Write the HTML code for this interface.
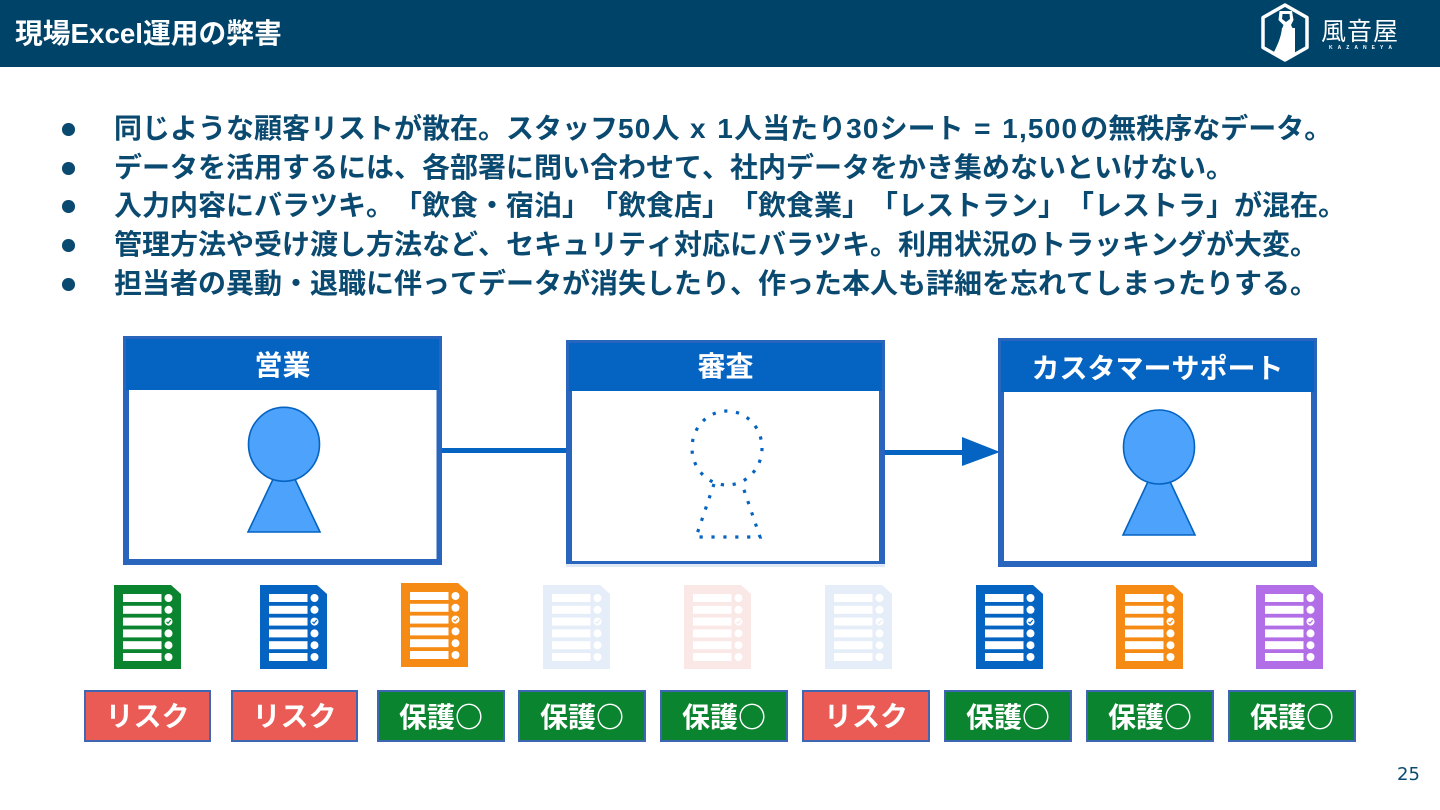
<!DOCTYPE html>
<html lang="ja"><head><meta charset="utf-8"><style>
html,body{margin:0;padding:0;background:#fff}
body{width:1440px;height:810px;position:relative;overflow:hidden;font-family:"Liberation Sans","Noto Sans CJK JP",sans-serif;text-spacing-trim:space-all;font-feature-settings:"palt" 0,"chws" 0,"halt" 0;font-kerning:none}
.a{position:absolute;white-space:nowrap}
.l{left:114px;font-size:28px;font-weight:700;color:#0b4a70;line-height:39px;height:39px}
.n{letter-spacing:1.2px;word-spacing:1.5px}
.b{left:60px;width:18px;height:15px}
.b:before{content:"";position:absolute;left:2px;top:1px;width:12.5px;height:12.5px;border-radius:50%;background:#0b4a70}
.tag{position:absolute;top:690px;width:124px;height:48px;border:2px solid #3f67b1;text-align:center;color:#fff;font-size:28px;font-weight:700;line-height:49px}
.tag span{font-weight:300;font-family:"Noto Sans CJK JP",sans-serif}
.r{background:#ea5b55}.g{background:#0b842f}
.h{position:absolute;color:#fff;font-size:28px;font-weight:700;text-align:center;line-height:54px}
</style></head><body>
<div class="a" style="left:0;top:0;width:1440px;height:67px;background:#004369"></div>
<div class="a" style="left:15px;top:14px;font-size:27.75px;font-weight:700;color:#fff;line-height:39px">現場Excel運用の弊害</div>
<svg class="a" style="left:1255px;top:0" width="150" height="67" viewBox="0 0 150 67">
<path d="M30 5 L52 17.500 V47.500 L30 60 L8 47.500 V17.500 Z" fill="none" stroke="#fff" stroke-width="3.500" stroke-linejoin="round"/>
<path d="M27 28 H40 C40 38 40 48 40 56 L30 61 L18 54 C22 46 26 38 27 28 Z" fill="#fff"/>
<path d="M24.500 11 H37 L38.500 20 L36 25 L38 29 H27 L28.500 25 L23.500 20 Z M27.500 14 L27 19 L31 22 L35 19 L34.500 14 Z" fill="#fff" fill-rule="evenodd"/>
<text x="66" y="40" font-size="25" fill="#fff" font-family="'Noto Sans CJK JP',sans-serif" font-weight="400" textLength="77">風音屋</text>
<text x="74" y="49" font-size="5" font-weight="700" fill="#fff" font-family="'Liberation Sans',sans-serif" textLength="63">KAZANEYA</text>
</svg>
<div class="a b" style="top:122px"></div><div class="a l" style="top:109px">同じような顧客リストが散在。スタッフ<span class="n">50</span>人<span class="n"> x 1</span>人当たり<span class="n">30</span>シート<span class="n"> = 1,500</span><span style="margin-left:2px">の無秩序なデータ。</span></div>
<div class="a b" style="top:161px"></div><div class="a l" style="top:148px">データを活用するには、各部署に問い合わせて、社内データをかき集めないといけない。</div>
<div class="a b" style="top:199px"></div><div class="a l" style="top:186px">入力内容にバラツキ。「飲食・宿泊」「飲食店」「飲食業」「レストラン」「レストラ」が混在。</div>
<div class="a b" style="top:238px"></div><div class="a l" style="top:225px">管理方法や受け渡し方法など、セキュリティ対応にバラツキ。利用状況のトラッキングが大変。</div>
<div class="a b" style="top:277px"></div><div class="a l" style="top:264px">担当者の異動・退職に伴ってデータが消失したり、作った本人も詳細を忘れてしまったりする。</div>

<svg class="a" style="left:0;top:0" width="1440" height="810" viewBox="0 0 1440 810">
<defs>
<g id="doc">
<path d="M0 0 H57 L67 9 V84 H0 Z" fill="currentColor"/>
<g fill="#fff">
<rect x="9" y="9" width="38.5" height="8"/><rect x="9" y="20.8" width="38.5" height="8"/><rect x="9" y="32.6" width="38.5" height="8"/><rect x="9" y="44.4" width="38.5" height="8"/><rect x="9" y="56.2" width="38.5" height="8"/><rect x="9" y="68" width="38.5" height="8"/>
<circle cx="54.5" cy="13" r="4"/><circle cx="54.5" cy="24.8" r="4"/><circle cx="54.5" cy="36.6" r="4"/><circle cx="54.5" cy="48.4" r="4"/><circle cx="54.5" cy="60.2" r="4"/><circle cx="54.5" cy="72" r="4"/>
</g>
<path d="M52.5 36.8 L54 38.3 L56.8 35" fill="none" stroke="currentColor" stroke-width="1.2"/>
</g>
</defs>
<rect x="442" y="448" width="124" height="5" fill="#0563c1"/>
<rect x="885" y="450" width="80" height="5" fill="#0563c1"/>
<path d="M962 437 L1000 452 L962 466 Z" fill="#0563c1"/>

<rect x="123" y="336" width="319" height="229" fill="#2a65bd"/><rect x="126" y="339" width="313" height="51" fill="#0563c1"/><rect x="129" y="390" width="307.500" height="169" fill="#fff"/>
<rect x="566" y="340" width="319" height="224" fill="#2a65bd"/><rect x="569" y="343" width="313" height="48" fill="#0563c1"/><rect x="572" y="391" width="307" height="170" fill="#fff"/><rect x="566" y="564" width="319" height="3" fill="#dfe9f6"/>
<rect x="998" y="338" width="319" height="229" fill="#2a65bd"/><rect x="1001" y="341" width="313" height="51" fill="#0563c1"/><rect x="1004" y="392" width="307" height="169" fill="#fff"/>

<g fill="#4da3fb" stroke="#0563c1" stroke-width="1.6">
<path d="M284 456 L320 532 H248 Z"/><ellipse cx="284" cy="444.300" rx="35.500" ry="37"/>
<path d="M1159 458 L1195 535 H1123 Z"/><ellipse cx="1159" cy="447" rx="35.500" ry="37"/>
</g>
<g fill="none" stroke="#0563c1" stroke-width="3.200" stroke-dasharray="3.200 8.700">
<ellipse cx="727" cy="448" rx="35" ry="37"/>
<path d="M714 484 L696 537 H760 L742 484"/>
</g>

<use href="#doc" x="114" y="585" color="#0b842f"/>
<use href="#doc" x="260" y="585" color="#0563c1"/>
<use href="#doc" x="401" y="583" color="#f58a14"/>
<use href="#doc" x="543" y="585" color="#e5eef8"/>
<use href="#doc" x="684" y="585" color="#fae8e7"/>
<use href="#doc" x="825" y="585" color="#e5eef8"/>
<use href="#doc" x="976" y="585" color="#0563c1"/>
<use href="#doc" x="1116" y="585" color="#f58a14"/>
<use href="#doc" x="1256" y="585" color="#b26ee6"/>
</svg>

<div class="h" style="left:123px;top:339px;width:319px">営業</div>
<div class="h" style="left:566px;top:340px;width:319px">審査</div>
<div class="h" style="left:998px;top:342px;width:319px">カスタマーサポート</div>

<div class="tag r" style="left:84px;width:123px">リスク</div>
<div class="tag r" style="left:231px;width:123px">リスク</div>
<div class="tag g" style="left:377px">保護<span>〇</span></div>
<div class="tag g" style="left:518px">保護<span>〇</span></div>
<div class="tag g" style="left:660px">保護<span>〇</span></div>
<div class="tag r" style="left:802px">リスク</div>
<div class="tag g" style="left:944px">保護<span>〇</span></div>
<div class="tag g" style="left:1086px">保護<span>〇</span></div>
<div class="tag g" style="left:1228px">保護<span>〇</span></div>
<div class="a" style="left:1397px;top:761px;font-size:18px;line-height:27px;color:#0b4a70;font-family:'DejaVu Sans',sans-serif">25</div>
</body></html>
